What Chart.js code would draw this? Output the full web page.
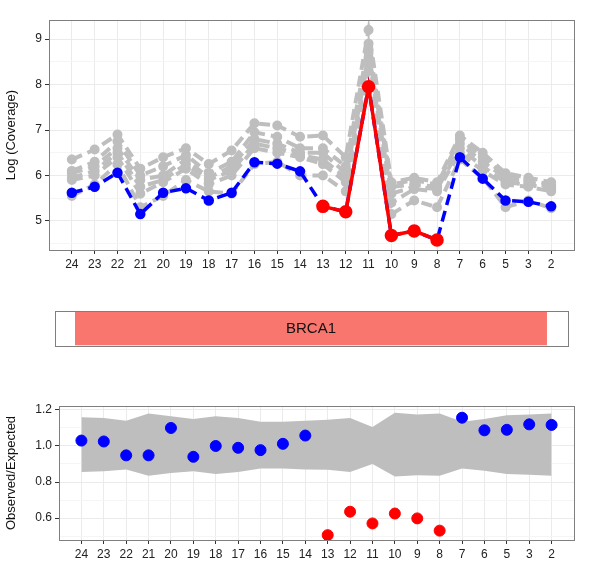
<!DOCTYPE html>
<html>
<head>
<meta charset="utf-8">
<script src="https://cdn.jsdelivr.net/npm/chart.js@4/dist/chart.umd.min.js"></script>
<style>
body { margin:0; background:#fff; }
.box { position:absolute; left:0; width:611px; }
</style>
</head>
<body>
<div class="box" style="top:0;height:275px"><canvas id="topChart"></canvas></div>
<div class="box" style="top:300px;height:60px"><canvas id="geneChart"></canvas></div>
<div class="box" style="top:395px;height:180px"><canvas id="ratioChart"></canvas></div>
<script>
// exon labels, left to right
var exons = ["24","23","22","21","20","19","18","17","16","15","14","13","12","11","10","9","8","7","6","5","3","2"];

// log coverage of reference samples (grey)
var grey1 = [6.35,6.57,6.9,6.15,6.4,6.6,6.25,6.55,7.15,7.1,6.85,6.88,6.4,9.2,5.85,5.95,5.85,6.88,6.5,6.05,5.95,5.85];
var grey2 = [6.1,6.3,6.75,6.0,6.2,6.45,6.05,6.3,6.95,6.85,6.6,6.6,6.2,8.9,5.8,5.9,5.8,6.8,6.4,6.0,5.9,5.8];
var grey3 = [6.05,6.2,6.6,5.9,6.0,6.35,5.95,6.2,6.8,6.7,6.5,6.5,6.05,8.7,5.75,5.8,5.75,6.7,6.3,5.95,5.85,5.75];
var grey4 = [5.95,6.1,6.5,5.75,5.9,6.25,5.9,6.1,6.7,6.6,6.45,6.35,5.95,8.6,5.6,5.75,5.7,6.6,6.2,5.85,5.8,5.7];
var grey5 = [5.9,6.0,6.4,5.6,5.85,6.15,5.8,6.0,6.6,6.5,6.4,6.25,5.85,8.5,5.4,5.7,5.65,6.5,6.1,5.8,5.75,5.65];
var grey6 = [5.55,5.8,6.25,5.3,5.55,5.9,5.65,5.6,6.25,6.3,6.0,6.0,5.65,8.3,5.15,5.45,5.3,6.35,5.95,5.3,5.45,5.28];
// test sample
var sample = [5.62,5.75,6.06,5.15,5.62,5.72,5.45,5.62,6.29,6.26,6.09,5.32,5.2,7.95,4.68,4.78,4.58,6.4,5.93,5.45,5.42,5.32];
var deleted = [null,null,null,null,null,null,null,null,null,null,null,5.32,5.2,7.95,4.68,4.78,4.58,null,null,null,null,null];

// observed / expected
var bandHigh = [1.16,1.155,1.14,1.18,1.165,1.15,1.165,1.155,1.135,1.135,1.14,1.145,1.155,1.105,1.185,1.175,1.18,1.135,1.15,1.17,1.175,1.18];
var bandLow = [0.855,0.86,0.87,0.835,0.85,0.86,0.845,0.855,0.875,0.875,0.87,0.868,0.855,0.9,0.83,0.838,0.835,0.875,0.862,0.845,0.84,0.835];
var ratioNormal = [1.03,1.025,0.948,0.948,1.1,0.94,1.0,0.99,0.977,1.012,1.058,null,null,null,null,null,null,1.157,1.087,1.09,1.12,1.117];
var ratioLow = [null,null,null,null,null,null,null,null,null,null,null,0.505,0.635,0.57,0.625,0.598,0.53,null,null,null,null,null];

var topTicks = [4.5,5,5.5,6,6.5,7,7.5,8,8.5,9];
var ratioTicks = [0.5,0.6,0.7,0.8,0.9,1.0,1.1,1.2];
var gene = "BRCA1";
var geneSpan = [3.9, 95.9];

Chart.defaults.font.family = "'Liberation Sans', Arial, sans-serif";
Chart.defaults.color = "#333";
Chart.defaults.animation = false;

var framePlugin = {
    id: "frame",
    afterDraw: function (chart) {
        var a = chart.chartArea, c = chart.ctx;
        c.save();
        c.strokeStyle = "#7f7f7f";
        c.lineWidth = 1;
        c.strokeRect(a.left + 0.5, a.top + 0.5, a.right - a.left, a.bottom - a.top);
        c.restore();
    }
};

function toPts(arr) {
    return arr.map(function (v, i) { return { x: i, y: v }; });
}

function xScale(height) {
    return {
        type: "linear", min: -1, max: 22,
        afterBuildTicks: function (ax) { ax.ticks = exons.map(function (e, i) { return { value: i }; }); },
        ticks: { autoSkip: false, callback: function (v) { return exons[v]; }, font: { size: 12 }, color: "#222" },
        grid: { color: "#ebebeb", tickColor: "#333", tickLength: 4 },
        border: { display: false },
        afterFit: function (ax) { ax.height = height; }
    };
}

function yScale(min, max, tickVals, width, title, isMajor) {
    return {
        min: min, max: max,
        afterBuildTicks: function (ax) { ax.ticks = tickVals.map(function (v) { return { value: v }; }); },
        ticks: {
            autoSkip: false, font: { size: 12 }, color: "#222",
            callback: function (v) { return isMajor(v) ? v.toFixed(min > 2 ? 0 : 1) : ""; }
        },
        grid: {
            color: function (ctx) { return isMajor(ctx.tick.value) ? "#ebebeb" : "#f5f5f5"; },
            tickColor: function (ctx) { return isMajor(ctx.tick.value) ? "#333" : "rgba(0,0,0,0)"; },
            tickLength: 4
        },
        border: { display: false },
        title: { display: true, text: title, font: { size: 13 }, color: "#111" },
        afterFit: function (ax) { ax.width = width; }
    };
}

var greyStyle = {
    borderColor: "#bebebe", backgroundColor: "#bebebe", borderWidth: 4,
    borderDash: [11, 6], pointRadius: 3, pointHoverRadius: 3, tension: 0, order: 5
};
var greyData = [grey1, grey2, grey3, grey4, grey5, grey6].map(function (g) {
    return Object.assign({ data: toPts(g) }, greyStyle);
});

new Chart(document.getElementById("topChart"), {
    type: "line",
    data: {
        datasets: greyData.concat([
            { data: toPts(sample), order: 2, borderColor: "#0000ff", backgroundColor: "#0000ff", borderWidth: 3.5, borderDash: [11, 6], pointRadius: 3.5 },
            { data: toPts(deleted), order: 1, borderColor: "#ff0000", backgroundColor: "#ff0000", borderWidth: 3.5, pointRadius: 5, spanGaps: false }
        ])
    },
    options: {
        responsive: true, maintainAspectRatio: false,
        layout: { padding: { top: 20, right: 37, left: 0, bottom: 0 } },
        plugins: { legend: { display: false }, tooltip: { enabled: false } },
        scales: {
            x: xScale(25),
            y: yScale(4.36, 9.42, topTicks, 49, "Log (Coverage)", function (v) { return Number.isInteger(v); })
        }
    },
    plugins: [framePlugin]
});

new Chart(document.getElementById("geneChart"), {
    type: "bar",
    data: {
        labels: [gene],
        datasets: [{ data: [geneSpan], backgroundColor: "#f8766d", borderWidth: 0, barPercentage: 1, categoryPercentage: 0.95 }]
    },
    options: {
        indexAxis: "y",
        responsive: true, maintainAspectRatio: false,
        layout: { padding: { top: 11, bottom: 14, left: 55, right: 43 } },
        plugins: { legend: { display: false }, tooltip: { enabled: false } },
        scales: {
            x: { display: false, min: 0, max: 100 },
            y: { display: false }
        }
    },
    plugins: [framePlugin, {
        id: "geneLabel",
        afterDatasetsDraw: function (chart) {
            var bar = chart.getDatasetMeta(0).data[0];
            var c = chart.ctx;
            c.save();
            c.fillStyle = "#111";
            c.font = "15px 'Liberation Sans', Arial, sans-serif";
            c.textAlign = "center";
            c.textBaseline = "middle";
            c.fillText(gene, (bar.x + bar.base) / 2, bar.y);
            c.restore();
        }
    }]
});

new Chart(document.getElementById("ratioChart"), {
    type: "line",
    data: {
        datasets: [
            { data: toPts(bandLow), order: 4, borderWidth: 0, pointRadius: 0, fill: false },
            { data: toPts(bandHigh), order: 3, borderWidth: 0, pointRadius: 0, fill: "-1", backgroundColor: "#bebebe" },
            { data: toPts(ratioNormal), order: 1, showLine: false, pointRadius: 5.5, backgroundColor: "#0000ff", borderColor: "#0000ff" },
            { data: toPts(ratioLow), order: 1, showLine: false, pointRadius: 5.5, backgroundColor: "#ff0000", borderColor: "#ff0000" }
        ]
    },
    options: {
        responsive: true, maintainAspectRatio: false,
        layout: { padding: { top: 11, right: 37, left: 0, bottom: 5 } },
        plugins: { legend: { display: false }, tooltip: { enabled: false } },
        scales: {
            x: xScale(30),
            y: yScale(0.478, 1.222, ratioTicks, 59, "Observed/Expected", function (v) { return Math.round(v * 10) % 2 === 0; })
        }
    },
    plugins: [framePlugin]
});
</script>
</body>
</html>
